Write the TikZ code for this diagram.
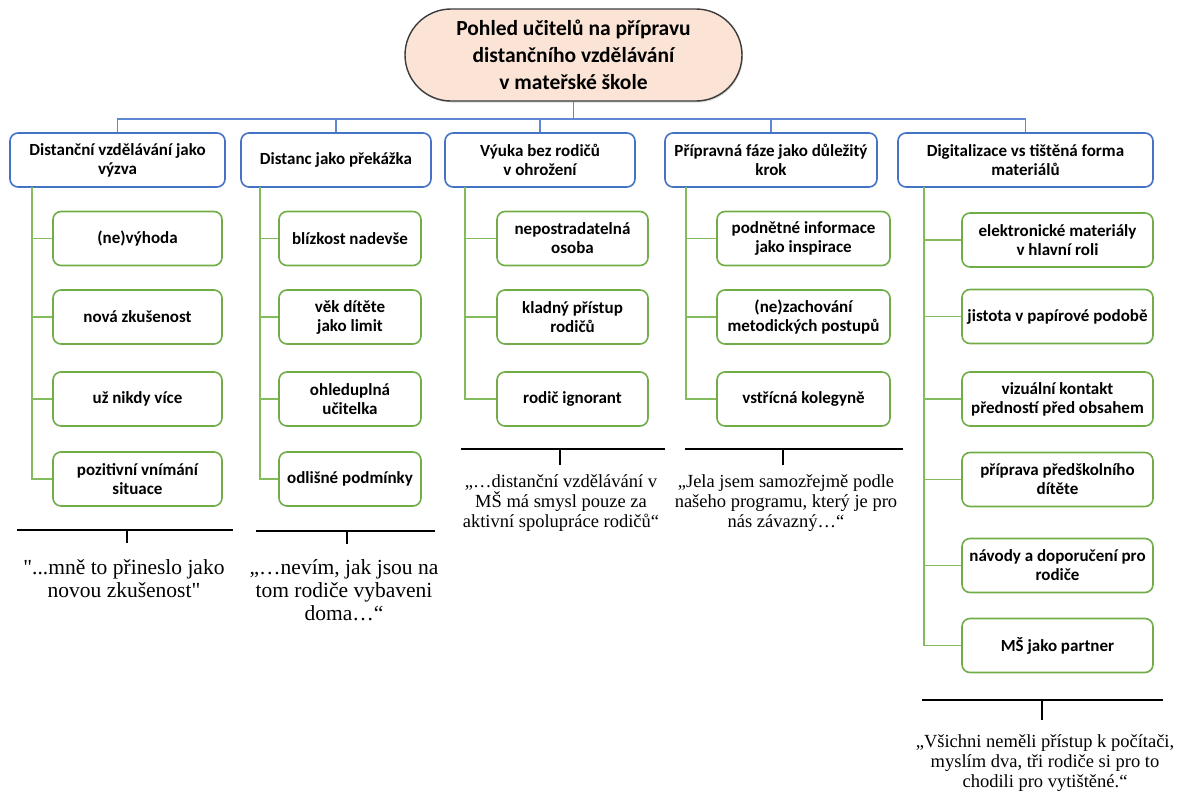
\documentclass[tikz,border=0pt]{standalone}
\usepackage{fontspec}
\setmainfont{Liberation Serif}[Ligatures=TeXOff]
\newfontfamily\boxfont{Carlito}
\usetikzlibrary{shadows}
\definecolor{bbox}{RGB}{68,114,196}
\definecolor{blink}{RGB}{95,135,210}
\definecolor{gbox}{RGB}{112,173,71}
\definecolor{glink}{RGB}{130,188,92}
\definecolor{peach}{RGB}{251,228,214}
\definecolor{tborder}{RGB}{60,60,60}
\tikzset{
  lone/.style={draw=bbox, line width=1.6pt, rounded corners=8pt, fill=white,
    minimum height=54pt, align=center, inner sep=2pt,
    font=\boxfont\bfseries\fontsize{17}{19}\selectfont},
  ltwo/.style={draw=gbox, line width=1.6pt, rounded corners=8pt, fill=white,
    minimum height=54pt, align=center, inner sep=2pt,
    font=\boxfont\bfseries\fontsize{17}{19}\selectfont},
  titlebox/.style={draw=tborder, line width=1.4pt, rounded corners=46pt, fill=peach,
    minimum width=337pt, minimum height=92pt, align=center, inner sep=0pt,
    font=\boxfont\bfseries\fontsize{21.5}{27}\selectfont,
    drop shadow={shadow xshift=1pt, shadow yshift=-1.5pt, fill=gray!60}},
  bl/.style={draw=blink, line width=1.5pt},
  gl/.style={draw=glink, line width=1.5pt},
  brk/.style={draw=black, line width=1.6pt},
  quoteA/.style={font=\fontsize{21.5}{23}\selectfont, align=center, inner sep=0pt},
  quoteB/.style={font=\fontsize{18.5}{20}\selectfont, align=center, inner sep=0pt},
}
\begin{document}
\begin{tikzpicture}[x=1pt,y=-1pt]
\useasboundingbox (0,0) rectangle (1184,793);

% title
\node[titlebox] (title) at (573.5,55) {Pohled učitelů na přípravu\\distančního vzdělávání\\v mateřské škole};

% level 1
\node[lone, minimum width=215pt] (A) at (117.5,160) {Distanční vzdělávání jako\\výzva};
\node[lone, minimum width=190pt] (B) at (336,160) {Distanc jako překážka};
\node[lone, minimum width=190pt] (C) at (540,160) {Výuka bez rodičů\\v ohrožení};
\node[lone, minimum width=212pt] (D) at (771,160) {Přípravná fáze jako důležitý\\krok};
\node[lone, minimum width=255pt] (E) at (1025.5,160) {Digitalizace vs tištěná forma\\materiálů};

% bus
\coordinate (bus) at (0,119);
\draw[bl] (title.south) -- (title.south |- bus);
\draw[bl] (A.north) -- (A.north |- bus) -- (E.north |- bus) -- (E.north);
\foreach \nn in {B,C,D} \draw[bl] (\nn.north) -- (\nn.north |- bus);

% column A
\node[ltwo, minimum width=169pt] (a1) at (137.5,238.5) {(ne)výhoda};
\node[ltwo, minimum width=169pt] (a2) at (137.5,317) {nová zkušenost};
\node[ltwo, minimum width=169pt] (a3) at (137.5,399) {už nikdy více};
\node[ltwo, minimum width=169pt] (a4) at (137.5,479) {pozitivní vnímání\\situace};
% column B
\node[ltwo, minimum width=142pt] (b1) at (350,238.5) {blízkost nadevše};
\node[ltwo, minimum width=142pt] (b2) at (350,317) {věk dítěte\\jako limit};
\node[ltwo, minimum width=142pt] (b3) at (350,399) {ohleduplná\\učitelka};
\node[ltwo, minimum width=142pt] (b4) at (350,479) {odlišné podmínky};
% column C
\node[ltwo, minimum width=151pt] (c1) at (572.5,238.5) {nepostradatelná\\osoba};
\node[ltwo, minimum width=151pt] (c2) at (572.5,317) {kladný přístup\\rodičů};
\node[ltwo, minimum width=151pt] (c3) at (572.5,399) {rodič ignorant};
% column D
\node[ltwo, minimum width=173pt] (d1) at (803.5,238.5) {podnětné informace\\jako inspirace};
\node[ltwo, minimum width=173pt] (d2) at (803.5,317) {(ne)zachování\\metodických postupů};
\node[ltwo, minimum width=173pt] (d3) at (803.5,399) {vstřícná kolegyně};
% column E
\node[ltwo, minimum width=191pt] (e1) at (1057.5,240) {elektronické materiály\\v hlavní roli};
\node[ltwo, minimum width=191pt] (e2) at (1057.5,316.5) {jistota v papírové podobě};
\node[ltwo, minimum width=191pt] (e3) at (1057.5,399) {vizuální kontakt\\předností před obsahem};
\node[ltwo, minimum width=191pt] (e4) at (1057.5,479.5) {příprava předškolního\\dítěte};
\node[ltwo, minimum width=191pt] (e5) at (1057.5,565.5) {návody a doporučení pro\\rodiče};
\node[ltwo, minimum width=191pt] (e6) at (1057.5,645.5) {MŠ jako partner};

% green trunks
\coordinate (tA) at (32,187);
\coordinate (tB) at (260,187);
\coordinate (tC) at (465,187);
\coordinate (tD) at (686,187);
\coordinate (tE) at (924,187);
\draw[gl] (tA) |- (a4.west);
\foreach \cc in {a1,a2,a3} \draw[gl] (\cc.west) -- (\cc.west -| tA);
\draw[gl] (tB) |- (b4.west);
\foreach \cc in {b1,b2,b3} \draw[gl] (\cc.west) -- (\cc.west -| tB);
\draw[gl] (tC) |- (c3.west);
\foreach \cc in {c1,c2} \draw[gl] (\cc.west) -- (\cc.west -| tC);
\draw[gl] (tD) |- (d3.west);
\foreach \cc in {d1,d2} \draw[gl] (\cc.west) -- (\cc.west -| tD);
\draw[gl] (tE) |- (e6.west);
\foreach \cc in {e1,e2,e3,e4,e5} \draw[gl] (\cc.west) -- (\cc.west -| tE);

% brackets
\coordinate (q1l) at (17,530);  \coordinate (q1r) at (233,530);  \coordinate (q1t) at (127,543);
\coordinate (q2l) at (256,531); \coordinate (q2r) at (435,531);  \coordinate (q2t) at (347,544);
\coordinate (q3l) at (461,449); \coordinate (q3r) at (665,449);  \coordinate (q3t) at (560,465);
\coordinate (q4l) at (685,449); \coordinate (q4r) at (903,449);  \coordinate (q4t) at (783,465);
\coordinate (q5l) at (922,700); \coordinate (q5r) at (1163,700); \coordinate (q5t) at (1042,720);
\foreach \qq in {q1,q2,q3,q4,q5} {
  \draw[brk] (\qq l) -- (\qq r);
  \draw[brk] (\qq l -| \qq t) -- (\qq t);
}

% quotes
\node[quoteA] (Q1) at (124,578.5) {"...mně to přineslo jako\\novou zkušenost"};
\node[quoteA] (Q2) at (344,590) {„…nevím, jak jsou na\\tom rodiče vybaveni\\doma…“};
\node[quoteB] (Q3) at (561,503) {„…distanční vzdělávání v\\MŠ má smysl pouze za\\aktivní spolupráce rodičů“};
\node[quoteB] (Q4) at (786,503) {„Jela jsem samozřejmě podle\\našeho programu, který je pro\\nás závazný…“};
\node[quoteB] (Q5) at (1045,763) {„Všichni neměli přístup k počítači,\\myslím dva, tři rodiče si pro to\\chodili pro vytištěné.“};
\end{tikzpicture}
\end{document}
